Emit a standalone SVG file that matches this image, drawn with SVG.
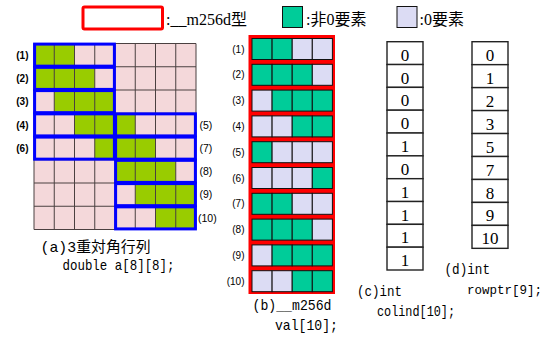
<svg xmlns="http://www.w3.org/2000/svg" width="553" height="338" viewBox="0 0 553 338">
<style>
.pink{fill:#f4d8da}
.lg{fill:#99cc00}
.grid{stroke:#4a4040;stroke-width:1;fill:none}
.blue{fill:none;stroke:#0000ff;stroke-width:3}
.g{fill:#00cc99;stroke:#111;stroke-width:1}
.l{fill:#dcdcf4;stroke:#111;stroke-width:1}
.box{fill:#fff;stroke:#222;stroke-width:1.4}
.num{font-family:"Liberation Serif",serif;font-size:17px;fill:#000;text-anchor:middle}
.lblb{font-family:"Liberation Sans",Arial,sans-serif;font-size:10px;font-weight:bold;fill:#000;text-anchor:end}
.lbl{font-family:"Liberation Sans",Arial,sans-serif;font-size:10.5px;fill:#000}
.lbls{font-family:"Liberation Sans",Arial,sans-serif;font-size:10px;fill:#000;text-anchor:end}
.mono{font-family:"Liberation Mono","Noto Sans CJK JP",monospace;font-size:15px;fill:#000}
.leg{font-family:"Liberation Serif","Noto Sans CJK JP",serif;font-size:16px;fill:#000}
</style>

<g id="legend">
  <rect x="83" y="7" width="79.5" height="22" rx="1.5" fill="#fff" stroke="#ff0000" stroke-width="3"/>
  <text class="leg" x="166" y="24.5">:__m256d型</text>
  <rect x="282.5" y="6.5" width="20" height="21" class="g"/>
  <text class="leg" x="306" y="24.5">:非0要素</text>
  <rect x="397" y="6.5" width="20" height="21" class="l"/>
  <text class="leg" x="419.5" y="24.5">:0要素</text>
</g>

<g id="matrix-a">
  <rect x="34" y="43.5" width="162" height="186" class="pink"/>
  <rect x="34" y="43.5" width="40.5" height="23.25" class="lg"/>
  <rect x="34" y="66.75" width="60.75" height="23.25" class="lg"/>
  <rect x="54.25" y="90" width="60.75" height="23.25" class="lg"/>
  <rect x="74.5" y="113.25" width="60.75" height="23.25" class="lg"/>
  <rect x="94.75" y="136.5" width="60.75" height="23.25" class="lg"/>
  <rect x="115" y="159.75" width="60.75" height="23.25" class="lg"/>
  <rect x="135.25" y="183" width="60.75" height="23.25" class="lg"/>
  <rect x="155.5" y="206.25" width="40.5" height="23.25" class="lg"/>
  <path class="grid" d="M34 43.5V229.5M54.25 43.5V229.5M74.5 43.5V229.5M94.75 43.5V229.5M115 43.5V229.5M135.25 43.5V229.5M155.5 43.5V229.5M175.75 43.5V229.5M196 43.5V229.5M34 43.5H196M34 66.75H196M34 90H196M34 113.25H196M34 136.5H196M34 159.75H196M34 183H196M34 206.25H196M34 229.5H196"/>
  <rect class="blue" x="34.6" y="44.1" width="79.8" height="22.05"/>
  <rect class="blue" x="34.6" y="67.35" width="79.8" height="22.05"/>
  <rect class="blue" x="34.6" y="90.6" width="79.8" height="22.05"/>
  <rect class="blue" x="34.6" y="113.85" width="79.8" height="22.05"/>
  <rect class="blue" x="34.6" y="137.1" width="79.8" height="22.05"/>
  <rect class="blue" x="115.6" y="113.85" width="79.8" height="22.05"/>
  <rect class="blue" x="115.6" y="137.1" width="79.8" height="22.05"/>
  <rect class="blue" x="115.6" y="160.35" width="79.8" height="22.05"/>
  <rect class="blue" x="115.6" y="183.6" width="79.8" height="22.05"/>
  <rect class="blue" x="115.6" y="206.85" width="79.8" height="22.05"/>
  <text class="lblb" x="28.5" y="58.8">(1)</text>
  <text class="lblb" x="28.5" y="82.1">(2)</text>
  <text class="lblb" x="28.5" y="105.3">(3)</text>
  <text class="lblb" x="28.5" y="128.6">(4)</text>
  <text class="lblb" x="28.5" y="151.8">(6)</text>
  <text class="lbl" x="199.5" y="128.6">(5)</text>
  <text class="lbl" x="199.5" y="151.8">(7)</text>
  <text class="lbl" x="199.5" y="175.1">(8)</text>
  <text class="lbl" x="199.5" y="198.3">(9)</text>
  <text class="lbl" x="198" y="221.6">(10)</text>
  <text class="mono" x="40.5" y="252" textLength="110" lengthAdjust="spacingAndGlyphs">(a)3重対角行列</text>
  <text class="mono" x="62.5" y="269.5" textLength="112" lengthAdjust="spacingAndGlyphs">double a[8][8];</text>
</g>

<g id="val-b">
  <rect x="248.5" y="35" width="86.5" height="259" fill="#ff0000"/>
  <g id="row1"><rect class="g" x="252" y="38.5" width="20.1" height="21"/><rect class="g" x="272.1" y="38.5" width="20.1" height="21"/><rect class="l" x="292.2" y="38.5" width="20.1" height="21"/><rect class="l" x="312.3" y="38.5" width="20.1" height="21"/></g>
  <g id="row2"><rect class="g" x="252" y="64.3" width="20.1" height="21"/><rect class="g" x="272.1" y="64.3" width="20.1" height="21"/><rect class="g" x="292.2" y="64.3" width="20.1" height="21"/><rect class="l" x="312.3" y="64.3" width="20.1" height="21"/></g>
  <g id="row3"><rect class="l" x="252" y="90.1" width="20.1" height="21"/><rect class="g" x="272.1" y="90.1" width="20.1" height="21"/><rect class="g" x="292.2" y="90.1" width="20.1" height="21"/><rect class="g" x="312.3" y="90.1" width="20.1" height="21"/></g>
  <g id="row4"><rect class="l" x="252" y="115.9" width="20.1" height="21"/><rect class="l" x="272.1" y="115.9" width="20.1" height="21"/><rect class="g" x="292.2" y="115.9" width="20.1" height="21"/><rect class="g" x="312.3" y="115.9" width="20.1" height="21"/></g>
  <g id="row5"><rect class="g" x="252" y="141.7" width="20.1" height="21"/><rect class="l" x="272.1" y="141.7" width="20.1" height="21"/><rect class="l" x="292.2" y="141.7" width="20.1" height="21"/><rect class="l" x="312.3" y="141.7" width="20.1" height="21"/></g>
  <g id="row6"><rect class="l" x="252" y="167.5" width="20.1" height="21"/><rect class="l" x="272.1" y="167.5" width="20.1" height="21"/><rect class="l" x="292.2" y="167.5" width="20.1" height="21"/><rect class="g" x="312.3" y="167.5" width="20.1" height="21"/></g>
  <g id="row7"><rect class="g" x="252" y="193.3" width="20.1" height="21"/><rect class="g" x="272.1" y="193.3" width="20.1" height="21"/><rect class="l" x="292.2" y="193.3" width="20.1" height="21"/><rect class="l" x="312.3" y="193.3" width="20.1" height="21"/></g>
  <g id="row8"><rect class="g" x="252" y="219.1" width="20.1" height="21"/><rect class="g" x="272.1" y="219.1" width="20.1" height="21"/><rect class="g" x="292.2" y="219.1" width="20.1" height="21"/><rect class="l" x="312.3" y="219.1" width="20.1" height="21"/></g>
  <g id="row9"><rect class="l" x="252" y="244.9" width="20.1" height="21"/><rect class="g" x="272.1" y="244.9" width="20.1" height="21"/><rect class="g" x="292.2" y="244.9" width="20.1" height="21"/><rect class="g" x="312.3" y="244.9" width="20.1" height="21"/></g>
  <g id="row10"><rect class="l" x="252" y="270.7" width="20.1" height="21"/><rect class="l" x="272.1" y="270.7" width="20.1" height="21"/><rect class="g" x="292.2" y="270.7" width="20.1" height="21"/><rect class="g" x="312.3" y="270.7" width="20.1" height="21"/></g>
  <text class="lbls" x="244.5" y="52.5">(1)</text>
  <text class="lbls" x="244.5" y="78.3">(2)</text>
  <text class="lbls" x="244.5" y="104.1">(3)</text>
  <text class="lbls" x="244.5" y="129.9">(4)</text>
  <text class="lbls" x="244.5" y="155.7">(5)</text>
  <text class="lbls" x="244.5" y="181.5">(6)</text>
  <text class="lbls" x="244.5" y="207.3">(7)</text>
  <text class="lbls" x="244.5" y="233.1">(8)</text>
  <text class="lbls" x="244.5" y="258.9">(9)</text>
  <text class="lbls" x="244.5" y="284.7">(10)</text>
  <text class="mono" x="252.5" y="310" textLength="79" lengthAdjust="spacingAndGlyphs">(b)__m256d</text>
  <text class="mono" x="275" y="329.5" textLength="63" lengthAdjust="spacingAndGlyphs">val[10];</text>
</g>

<g id="colind-c">
  <rect class="box" x="387" y="41.7" width="36" height="22.83"/>
  <rect class="box" x="387" y="64.53" width="36" height="22.83"/>
  <rect class="box" x="387" y="87.36" width="36" height="22.83"/>
  <rect class="box" x="387" y="110.19" width="36" height="22.83"/>
  <rect class="box" x="387" y="133.02" width="36" height="22.83"/>
  <rect class="box" x="387" y="155.85" width="36" height="22.83"/>
  <rect class="box" x="387" y="178.68" width="36" height="22.83"/>
  <rect class="box" x="387" y="201.51" width="36" height="22.83"/>
  <rect class="box" x="387" y="224.34" width="36" height="22.83"/>
  <rect class="box" x="387" y="247.17" width="36" height="22.83"/>
  <text class="num" x="405" y="60.7">0</text>
  <text class="num" x="405" y="83.5">0</text>
  <text class="num" x="405" y="106.4">0</text>
  <text class="num" x="405" y="129.2">0</text>
  <text class="num" x="405" y="152">1</text>
  <text class="num" x="405" y="174.9">0</text>
  <text class="num" x="405" y="197.7">1</text>
  <text class="num" x="405" y="220.5">1</text>
  <text class="num" x="405" y="243.3">1</text>
  <text class="num" x="405" y="266.2">1</text>
  <text class="mono" x="357" y="296" textLength="45" lengthAdjust="spacingAndGlyphs">(c)int</text>
  <text class="mono" x="377" y="315.5" textLength="78" lengthAdjust="spacingAndGlyphs">colind[10];</text>
</g>

<g id="rowptr-d">
  <rect class="box" x="472" y="41.7" width="36" height="22.96"/>
  <rect class="box" x="472" y="64.66" width="36" height="22.96"/>
  <rect class="box" x="472" y="87.62" width="36" height="22.96"/>
  <rect class="box" x="472" y="110.58" width="36" height="22.96"/>
  <rect class="box" x="472" y="133.54" width="36" height="22.96"/>
  <rect class="box" x="472" y="156.5" width="36" height="22.96"/>
  <rect class="box" x="472" y="179.46" width="36" height="22.96"/>
  <rect class="box" x="472" y="202.42" width="36" height="22.96"/>
  <rect class="box" x="472" y="225.38" width="36" height="22.96"/>
  <text class="num" x="490" y="60.7">0</text>
  <text class="num" x="490" y="83.7">1</text>
  <text class="num" x="490" y="106.6">2</text>
  <text class="num" x="490" y="129.6">3</text>
  <text class="num" x="490" y="152.5">5</text>
  <text class="num" x="490" y="175.5">7</text>
  <text class="num" x="490" y="198.5">8</text>
  <text class="num" x="490" y="221.4">9</text>
  <text class="num" x="490" y="244.4">10</text>
  <text class="mono" x="444.5" y="274" textLength="45.5" lengthAdjust="spacingAndGlyphs">(d)int</text>
  <text class="mono" x="467" y="294" font-size="13.5" textLength="75" lengthAdjust="spacingAndGlyphs" style="font-size:13.5px">rowptr[9];</text>
</g>
</svg>
